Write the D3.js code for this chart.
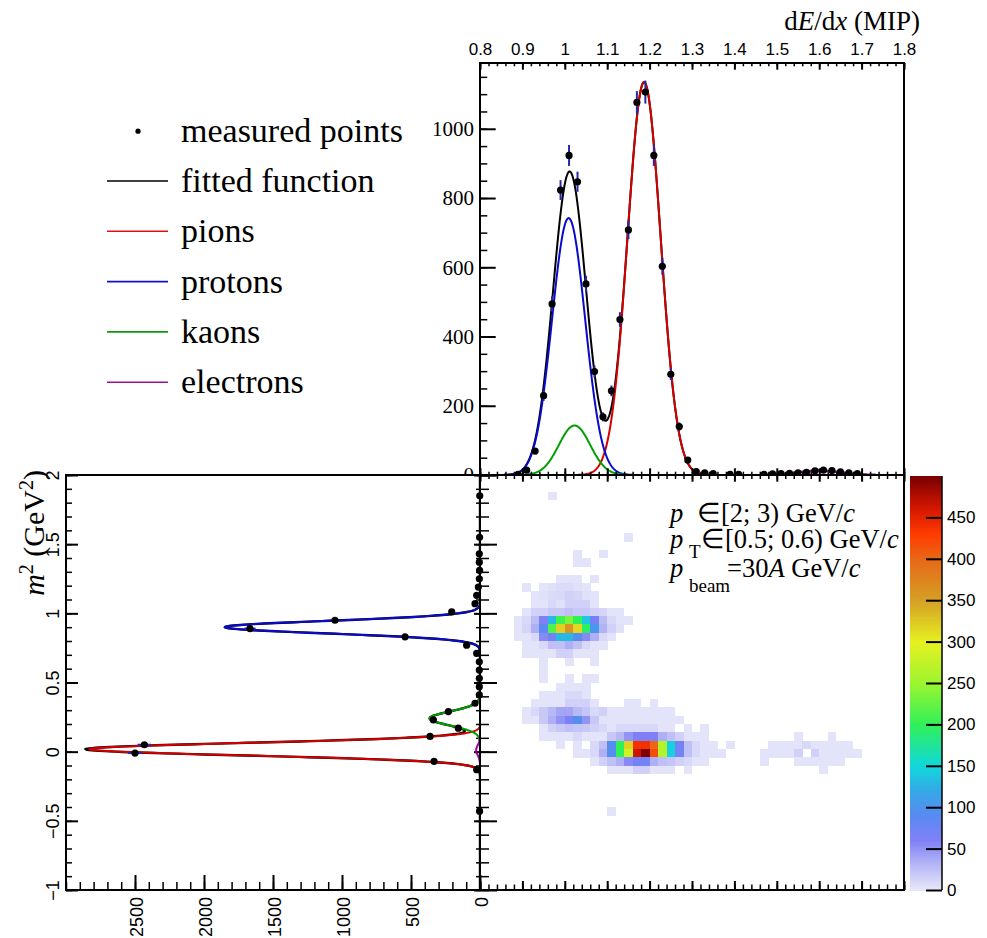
<!DOCTYPE html>
<html><head><meta charset="utf-8">
<script src="https://cdn.jsdelivr.net/npm/d3@7"></script>
<style>body{margin:0;background:#fff}svg{display:block}</style>
</head><body>
<svg id="c" width="987" height="938"></svg>
<script>
// ---------------- data ----------------
const dedxBins   = [0.89,0.91,0.93,0.95,0.97,0.99,1.01,1.03,1.05,1.07,1.09,1.11,1.13,1.15,1.17,1.19,1.21,1.23,1.25,1.27,1.29,1.31,1.33,1.35,1.39,1.41,1.47,1.49,1.51,1.53,1.55,1.57,1.59,1.61,1.63,1.65,1.67,1.69];
const dedxCounts = [2,14,69,229,494,823,923,847,552,299,168,243,449,708,1076,1106,923,603,291,140,43,10,6,4,2,2,2,3,4,5,6,8,12,14,13,9,6,4];

const m2Bins   = [-0.43,-0.13,-0.07,-0.01,0.05,0.11,0.17,0.23,0.29,0.35,0.41,0.47,0.53,0.59,0.65,0.71,0.77,0.83,0.89,0.95,1.01,1.07,1.13,1.19,1.25,1.31,1.37,1.43,1.55,1.85];
const m2Counts = [3,24,333,2500,2432,362,157,338,229,36,5,5,5,5,5,24,97,543,1667,1051,205,36,24,12,5,3,5,5,3,2];

const fitNames  = ["pions","protons","kaons","electrons"];
const fitColors = ["#d40000","#0a0acc","#00a000","#a000a8"];
const dedxFitAmp   = [1135, 742, 143, 13];
const dedxFitMean  = [1.187, 1.009, 1.023, 1.60];
const dedxFitSigma = [0.039, 0.039, 0.037, 0.05];
const m2FitAmp   = [2830, 1848, 365, 28];
const m2FitMean  = [0.018, 0.90, 0.24, 0.01];
const m2FitSigma = [0.045, 0.045, 0.05, 0.035];

// 2D histogram: rows of m^2 bins (centres), first dE/dx bin centre, counts
const heatRowM2 = [1.85,1.55,1.43,1.37,1.25,1.19,1.13,1.07,1.01,0.95,0.89,0.83,0.77,0.71,0.65,0.59,0.53,0.47,0.41,0.35,0.29,0.23,0.17,0.11,0.05,-0.01,-0.07,-0.13,-0.43];
const heatRowFirst = [0.97,1.15,1.03,1.03,0.99,0.91,0.93,0.93,0.91,0.89,0.89,0.89,0.91,0.91,0.95,0.95,0.95,0.99,0.95,0.93,0.91,0.91,0.95,0.95,0.99,1.03,1.07,1.11,1.11];
const heatRowCounts = [
  [3],
  [3],
  [3,0,0,3],
  [3,3],
  [3,3,3,0,3],
  [3,0,3,5,8,8,5,3],
  [3,5,8,10,15,12,5,3],
  [3,3,10,5,15,15,15,3],
  [3,15,15,20,20,25,20,20,15,12,3,3],
  [3,10,28,60,130,205,235,200,140,70,28,10,3,3],
  [3,12,35,90,215,320,360,315,195,105,33,15,5],
  [3,3,10,55,70,130,130,95,55,35,10,3],
  [3,3,10,25,25,35,25,10,3,3],
  [3,3,3,3,15,15,3,3,3],
  [3,0,0,3,0,0,3],
  [3],
  [3,0,0,3,0,3,3],
  [3,3,3,3],
  [3,3,3,10,10,3],
  [3,3,3,3,15,15,15,3,0,0,0,3,3,0,3],
  [3,10,20,30,40,40,30,22,10,15,3,3,3,3,3,3,3,3],
  [3,3,20,35,50,65,95,50,20,3,3,3,3,3,3,3,3,3,3],
  [3,15,20,25,22,20,15,10,3,10,10,10,10,10,3,3,0,3,0,3],
  [3,3,3,3,10,3,3,3,20,30,50,60,60,60,35,25,15,3,3,3,0,0,0,0,0,0,0,0,0,0,3,0,0,0,3],
  [3,0,3,0,10,25,95,200,320,440,440,400,265,145,70,25,10,3,3,0,3,0,0,0,0,3,3,3,3,10,3,3,3,3,3],
  [3,3,10,35,95,200,285,465,497,420,265,145,70,25,10,3,3,3,0,0,0,0,3,3,3,3,15,0,15,3,3,3,3,3],
  [3,15,25,35,55,70,70,35,25,22,15,10,3,3,0,0,0,0,0,0,3,0,0,0,3,3,3,3,3,3],
  [3,3,3,15,15,3,3,3,0,3,0,0,0,0,0,0,0,0,0,0,0,0,0,0,0,3],
  [3]
];

const paletteStops  = [0, 30, 60, 90, 120, 150, 200, 250, 300, 350, 400, 430, 460, 500];
const paletteColors = ["#e8e8fa","#b8b8f6","#8080f6","#5a8af2","#35a8e6","#10d8dc","#30f058","#9cf530","#e6f020","#d4a024","#e86818","#ff3c00","#d81800","#780000"];

const legendLabels = ["measured points","fitted function","pions","protons","kaons","electrons"];
const legendColors = [null,"#000000","#dd1111","#1111cc","#119911","#a010a0"];

// ---------------- setup ----------------
const SERIF = "'Liberation Serif','Times New Roman',serif";
const SANS  = "'Liberation Sans',Arial,sans-serif";
const svg = d3.select("#c");

const xE   = d3.scaleLinear().domain([0.8,1.8]).range([480,904]);
const yTop = d3.scaleLinear().domain([0,1190]).range([475,63]);
const yM   = d3.scaleLinear().domain([-1,2]).range([890,475]);
const xCnt = d3.scaleLinear().domain([0,3000]).range([480,66]);
const zBar = d3.scaleLinear().domain([0,500]).range([890,476]);
const zColor = d3.scaleLinear().domain(paletteStops).range(paletteColors).interpolate(d3.interpolateRgb).clamp(true);

const gauss = (x,A,mu,s) => A*Math.exp(-0.5*((x-mu)/s)*((x-mu)/s));
const fmt = d => { const s = String(+d.toFixed(2)); return d < 0 ? "\u2212"+s.slice(1) : s; };
const fmtInt = d3.format("d");

function tidy(g, family, size, sw) {
  g.attr("font-family", family).attr("font-size", size);
  g.selectAll(".domain").remove();
  g.selectAll("line").attr("stroke","#000").attr("stroke-width", sw || 2);
  g.selectAll("text").attr("fill","#000");
  return g;
}

// clip paths
const defs = svg.append("defs");
defs.append("clipPath").attr("id","clipTop").append("rect").attr("x",480).attr("y",63).attr("width",424).attr("height",412);
defs.append("clipPath").attr("id","clipLeft").append("rect").attr("x",66).attr("y",475).attr("width",414).attr("height",415);

// ---------------- top panel ----------------
const topG = svg.append("g");
const xsTop = d3.range(0,1001).map(k => 0.8 + k*0.001);
const lineTop = d3.line().x(d => xE(d[0])).y(d => yTop(d[1]));
const totalTop = xsTop.map(x => [x, d3.sum(fitNames, (n,i) => gauss(x,dedxFitAmp[i],dedxFitMean[i],dedxFitSigma[i]))]);
const curvesTop = topG.append("g").attr("clip-path","url(#clipTop)").attr("fill","none");
curvesTop.append("path").attr("d", lineTop(totalTop)).attr("stroke","#000").attr("stroke-width",2);
fitNames.forEach((n,i) => {
  const pts = xsTop.filter(x => Math.abs(x-dedxFitMean[i]) < 5*dedxFitSigma[i]).map(x => [x, gauss(x,dedxFitAmp[i],dedxFitMean[i],dedxFitSigma[i])]);
  curvesTop.append("path").attr("d", lineTop(pts)).attr("stroke", fitColors[i]).attr("stroke-width",2);
});
const ptsTop = topG.append("g").attr("clip-path","url(#clipTop)");
ptsTop.selectAll("line.err").data(dedxBins).join("line")
  .attr("x1", d => xE(d)).attr("x2", d => xE(d))
  .attr("y1", (d,i) => yTop(dedxCounts[i] + Math.sqrt(dedxCounts[i])))
  .attr("y2", (d,i) => yTop(dedxCounts[i] - Math.sqrt(dedxCounts[i])))
  .attr("stroke","#2828a8").attr("stroke-width",2);
ptsTop.selectAll("circle").data(dedxBins).join("circle")
  .attr("cx", d => xE(d)).attr("cy", (d,i) => yTop(dedxCounts[i])).attr("r",3.6).attr("fill","#000");

// top axes
const topMajor = d3.range(8,19).map(v => v/10);
const topMinor = d3.range(40,91).map(v => v/50);
tidy(topG.append("g").attr("transform","translate(0,63)")
  .call(d3.axisTop(xE).tickValues(topMajor).tickFormat(fmt).tickSize(-6.7).tickSizeOuter(0).tickPadding(8)), SANS, 17);
tidy(topG.append("g").attr("transform","translate(0,63)")
  .call(d3.axisTop(xE).tickValues(topMinor).tickFormat("").tickSize(-3.3).tickSizeOuter(0)), SANS, 17, 1.5);
tidy(topG.append("g").attr("transform","translate(0,475)")
  .call(d3.axisBottom(xE).tickValues(topMajor).tickFormat("").tickSize(-6.7).tickSizeOuter(0)), SANS, 17);
tidy(topG.append("g").attr("transform","translate(0,475)")
  .call(d3.axisBottom(xE).tickValues(topMinor).tickFormat("").tickSize(-3.3).tickSizeOuter(0)), SANS, 17, 1.5);
const yTopMajor = d3.range(0,1001,200);
const yTopMinor = d3.range(0,1191,50);
tidy(topG.append("g").attr("transform","translate(480,0)")
  .call(d3.axisLeft(yTop).tickValues(yTopMajor).tickFormat(fmtInt).tickSize(-15.7).tickSizeOuter(0).tickPadding(6)), SERIF, 21);
tidy(topG.append("g").attr("transform","translate(480,0)")
  .call(d3.axisLeft(yTop).tickValues(yTopMinor).tickFormat("").tickSize(-7.3).tickSizeOuter(0)), SERIF, 21, 1.5);
topG.append("rect").attr("x",480).attr("y",63).attr("width",424).attr("height",412)
  .attr("fill","none").attr("stroke","#000").attr("stroke-width",2);
const ttl = topG.append("text").attr("x",920).attr("y",30).attr("text-anchor","end")
  .attr("font-family",SERIF).attr("font-size",27);
ttl.append("tspan").text("d");
ttl.append("tspan").attr("font-style","italic").text("E");
ttl.append("tspan").text("/d");
ttl.append("tspan").attr("font-style","italic").text("x");
ttl.append("tspan").text(" (MIP)");

// cover lower half of top "0" label (lower pads are opaque)
svg.append("rect").attr("x",0).attr("y",476).attr("width",480).attr("height",462).attr("fill","#fff");

// ---------------- heat map ----------------
const heat = svg.append("g").attr("shape-rendering","crispEdges");
const cells = [];
heatRowM2.forEach((m2, r) => heatRowCounts[r].forEach((v, k) => {
  if (v > 0) cells.push({e: heatRowFirst[r] + 0.02*k, m: m2, v: v});
}));
heat.selectAll("rect").data(cells).join("rect")
  .attr("x", d => xE(d.e - 0.01)).attr("width", d => xE(d.e + 0.01) - xE(d.e - 0.01) + 0.3)
  .attr("y", d => yM(d.m + 0.03)).attr("height", d => yM(d.m - 0.03) - yM(d.m + 0.03) + 0.3)
  .attr("fill", d => zColor(d.v));

const hx = svg.append("g");
tidy(hx.append("g").attr("transform","translate(0,475)")
  .call(d3.axisTop(xE).tickValues(topMajor).tickFormat("").tickSize(-6.7).tickSizeOuter(0)), SANS, 17);
tidy(hx.append("g").attr("transform","translate(0,475)")
  .call(d3.axisTop(xE).tickValues(topMinor).tickFormat("").tickSize(-4).tickSizeOuter(0)), SANS, 17, 1.5);
tidy(hx.append("g").attr("transform","translate(0,890)")
  .call(d3.axisBottom(xE).tickValues(topMajor).tickFormat("").tickSize(-9).tickSizeOuter(0)), SANS, 17);
tidy(hx.append("g").attr("transform","translate(0,890)")
  .call(d3.axisBottom(xE).tickValues(topMinor).tickFormat("").tickSize(-5.5).tickSizeOuter(0)), SANS, 17, 1.5);
const m2Major = [-1,-0.5,0,0.5,1,1.5,2];
const m2Minor = d3.range(-10,21).map(v => v/10);
const hyMaj = tidy(hx.append("g").attr("transform","translate(480,0)")
  .call(d3.axisRight(yM).tickValues(m2Major).tickFormat("").tickSize(17).tickSizeOuter(0)), SANS, 17);
hyMaj.selectAll("line").attr("x1",-6);
const hyMin = tidy(hx.append("g").attr("transform","translate(480,0)")
  .call(d3.axisRight(yM).tickValues(m2Minor).tickFormat("").tickSize(9).tickSizeOuter(0)), SANS, 17, 1.5);
hyMin.selectAll("line").attr("x1",-4);
hx.append("rect").attr("x",480).attr("y",475).attr("width",424).attr("height",415)
  .attr("fill","none").attr("stroke","#000").attr("stroke-width",2);

// text in heat map
const t1 = svg.append("text").attr("y",521.7).attr("font-family",SERIF).attr("font-size",26.5);
t1.append("tspan").attr("x",670).attr("font-style","italic").text("p");
t1.append("tspan").attr("x",697).text("\u2208[2; 3) GeV/");
t1.append("tspan").attr("font-style","italic").text("c");
const t2 = svg.append("text").attr("y",548.3).attr("font-family",SERIF).attr("font-size",26.5);
t2.append("tspan").attr("x",670).attr("font-style","italic").text("p");
t2.append("tspan").attr("x",689).attr("dy",9.7).attr("font-size",19).text("T");
t2.append("tspan").attr("x",701).attr("dy",-9.7).text("\u2208[0.5; 0.6) GeV/");
t2.append("tspan").attr("font-style","italic").text("c");
const t3 = svg.append("text").attr("y",576.7).attr("font-family",SERIF).attr("font-size",26.5);
t3.append("tspan").attr("x",670).attr("font-style","italic").text("p");
t3.append("tspan").attr("x",689).attr("dy",15).attr("font-size",19).text("beam");
t3.append("tspan").attr("x",727).attr("dy",-15).text("=30");
t3.append("tspan").attr("font-style","italic").text("A");
t3.append("tspan").text(" GeV/");
t3.append("tspan").attr("font-style","italic").text("c");

// ---------------- left panel ----------------
const leftG = svg.append("g");
const ysLeft = d3.range(0,1501).map(k => -1 + k*0.002);
const lineLeft = d3.line().x(d => xCnt(d[1])).y(d => yM(d[0]));
const totalLeft = ysLeft.map(y => [y, d3.sum(fitNames, (n,i) => gauss(y,m2FitAmp[i],m2FitMean[i],m2FitSigma[i]))]);
const curvesLeft = leftG.append("g").attr("clip-path","url(#clipLeft)").attr("fill","none");
curvesLeft.append("path").attr("d", lineLeft(totalLeft)).attr("stroke","#000").attr("stroke-width",2.4);
fitNames.forEach((n,i) => {
  const pts = ysLeft.filter(y => Math.abs(y-m2FitMean[i]) < 5*m2FitSigma[i]).map(y => [y, gauss(y,m2FitAmp[i],m2FitMean[i],m2FitSigma[i])]);
  curvesLeft.append("path").attr("d", lineLeft(pts)).attr("stroke", fitColors[i]).attr("stroke-width",2);
});
const ptsLeft = leftG.append("g");
ptsLeft.selectAll("line.err").data(m2Bins).join("line")
  .attr("y1", d => yM(d)).attr("y2", d => yM(d))
  .attr("x1", (d,i) => xCnt(m2Counts[i] + Math.sqrt(m2Counts[i])))
  .attr("x2", (d,i) => xCnt(Math.max(0, m2Counts[i] - Math.sqrt(m2Counts[i]))))
  .attr("stroke","#2828a8").attr("stroke-width",2);
ptsLeft.selectAll("circle").data(m2Bins).join("circle")
  .attr("cy", d => yM(d)).attr("cx", (d,i) => xCnt(m2Counts[i])).attr("r",3.6).attr("fill","#000");

// left axes
const cntMajor = d3.range(0,2501,500);
const cntMinor = d3.range(0,3001,100);
const cxAx = tidy(leftG.append("g").attr("transform","translate(0,890)")
  .call(d3.axisBottom(xCnt).tickValues(cntMajor).tickFormat(fmtInt).tickSize(-15).tickSizeOuter(0)), SANS, 18);
cxAx.selectAll("text").attr("x",null).attr("y",null).attr("dy",null)
  .attr("text-anchor","end").attr("transform","translate(7.5,7) rotate(-90)");
tidy(leftG.append("g").attr("transform","translate(0,890)")
  .call(d3.axisBottom(xCnt).tickValues(cntMinor).tickFormat("").tickSize(-8).tickSizeOuter(0)), SANS, 18, 1.5);
const myAx = tidy(leftG.append("g").attr("transform","translate(66,0)")
  .call(d3.axisLeft(yM).tickValues(m2Major).tickFormat(fmt).tickSize(-12).tickSizeOuter(0)), SANS, 18);
myAx.selectAll("text").attr("x",null).attr("y",null).attr("dy",null)
  .attr("text-anchor","middle").attr("transform","translate(-7.5,0) rotate(-90)");
tidy(leftG.append("g").attr("transform","translate(66,0)")
  .call(d3.axisLeft(yM).tickValues(m2Minor).tickFormat("").tickSize(-6).tickSizeOuter(0)), SANS, 18, 1.5);
leftG.append("path").attr("d","M66,475H480V890H66Z").attr("fill","none").attr("stroke","#000").attr("stroke-width",2);
const mt = leftG.append("text").attr("transform","translate(43.5,470) rotate(-90)").attr("text-anchor","end")
  .attr("font-family",SERIF).attr("font-size",30);
mt.append("tspan").attr("font-style","italic").text("m");
mt.append("tspan").attr("dy",-11).attr("font-size",20).text("2");
mt.append("tspan").attr("dy",11).text(" (GeV");
mt.append("tspan").attr("dy",-11).attr("font-size",20).text("2");
mt.append("tspan").attr("dy",11).text(")");

// ---------------- colour bar ----------------
const barG = svg.append("g").attr("shape-rendering","crispEdges");
const barSteps = d3.range(0,500,2);
barG.selectAll("rect").data(barSteps).join("rect")
  .attr("x",910).attr("width",32)
  .attr("y", d => zBar(d+2)).attr("height", d => zBar(d) - zBar(d+2) + 0.5)
  .attr("fill", d => zColor(d+1));
const barTicks = d3.range(0,451,50);
tidy(svg.append("g").attr("transform","translate(942,0)")
  .call(d3.axisRight(zBar).tickValues(barTicks).tickSize(-16).tickSizeOuter(0).tickPadding(5)), SANS, 17);
svg.append("line").attr("x1",942).attr("x2",942).attr("y1",476).attr("y2",890).attr("stroke","#000").attr("stroke-width",1.5);

// ---------------- legend ----------------
const leg = svg.append("g").attr("font-family",SERIF).attr("font-size",34);
legendLabels.forEach((lab,i) => {
  const yb = 141.7 + i*50.3;
  leg.append("text").attr("x",181).attr("y",yb).text(lab);
  if (i === 0) leg.append("circle").attr("cx",138).attr("cy",yb-10.5).attr("r",2.6).attr("fill","#000");
  else leg.append("line").attr("x1",107).attr("x2",168).attr("y1",yb-11).attr("y2",yb-11)
        .attr("stroke",legendColors[i]).attr("stroke-width",1.6);
});
</script>
</body></html>
